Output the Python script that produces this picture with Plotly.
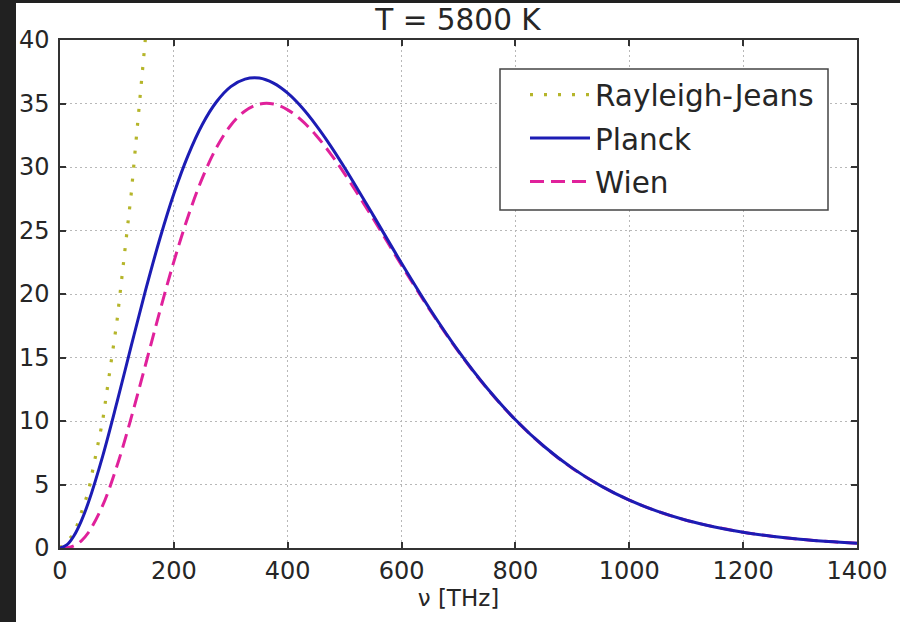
import plotly.graph_objects as go

# frequencies (THz) and spectral radiance values
nu = [0, 12.5, 25, 37.5, 50, 75, 100, 125, 150, 175, 200, 225, 250, 275, 300, 325, 350, 375,
      400, 425, 450, 475, 500, 550, 600, 650, 700, 750, 800, 850, 900, 950, 1000,
      1050, 1100, 1150, 1200, 1250, 1300, 1350, 1400]
planck = [0, 0.26, 1.0, 2.14, 3.6, 7.24, 11.46, 15.89, 20.24, 24.29, 27.89, 30.92, 33.35, 35.14,
          36.33, 36.92, 37.0, 36.6, 35.81, 34.68, 33.28, 31.69, 29.94, 26.21, 22.42,
          18.8, 15.5, 12.6, 10.1, 8.01, 6.29, 4.89, 3.77, 2.88, 2.19, 1.66, 1.24,
          0.93, 0.69, 0.51, 0.38]
wien = [0, 0.03, 0.19, 0.57, 1.22, 3.35, 6.45, 10.24, 14.39, 18.58, 22.55, 26.11, 29.13, 31.53,
        33.29, 34.41, 34.95, 34.96, 34.5, 33.65, 32.48, 31.06, 29.46, 25.94, 22.26,
        18.72, 15.46, 12.57, 10.09, 8.0, 6.28, 4.89, 3.77, 2.88, 2.19, 1.66, 1.24,
        0.93, 0.69, 0.51, 0.38]
rj_nu = [0, 25, 50, 75, 100, 125, 150]
rj = [0, 1.11, 4.46, 10.03, 17.82, 27.85, 40.1]

x_ticks = [0, 200, 400, 600, 800, 1000, 1200, 1400]
y_ticks = [0, 5, 10, 15, 20, 25, 30, 35, 40]

FONT = "DejaVu Sans"
TXT = "#262626"

fig = go.Figure()
fig.add_trace(go.Scatter(x=rj_nu, y=rj, mode="lines", name="Rayleigh-Jeans",
                         line=dict(color="#b5b52a", width=3.2, dash="3px,11px"),
                         legendgroup="a", legendrank=1))
fig.add_trace(go.Scatter(x=nu, y=wien, mode="lines", name="Wien", line_shape="spline",
                         line=dict(color="#e0219b", width=3, dash="14px,7px"),
                         legendgroup="c", legendrank=3))
fig.add_trace(go.Scatter(x=nu, y=planck, mode="lines", name="Planck", line_shape="spline",
                         line=dict(color="#1c1cb4", width=3),
                         legendgroup="b", legendrank=2))

axis_common = dict(showline=True, linecolor="#333333", linewidth=1.5, mirror="allticks",
                   ticks="inside", ticklen=6, tickwidth=1.5, tickcolor="#333333",
                   showgrid=True, gridcolor="#b8b8b8", griddash="2px,3px", gridwidth=1,
                   zeroline=False, tickfont=dict(family=FONT, size=24, color=TXT))

fig.update_xaxes(range=[0, 1400], tickvals=x_ticks, ticktext=[str(v) for v in x_ticks],
                 title=dict(text="ν [THz]", font=dict(family=FONT, size=23, color=TXT),
                            standoff=4),
                 **axis_common)
fig.update_yaxes(range=[0, 40], tickvals=y_ticks, ticktext=[str(v) for v in y_ticks],
                 ticklabelstandoff=4, **axis_common)

W, H = 900, 622
L, R, T, B = 60, 43, 40, 74
pw, ph = W - L - R, H - T - B


def px_x(p):
    return (p - L) / pw


def px_y(p):
    return (H - B - p) / ph


# dark frame around the picture (left and top strips)
fig.add_shape(type="rect", xref="paper", yref="paper",
              x0=px_x(-5), x1=px_x(16), y0=px_y(H + 5), y1=px_y(-5),
              fillcolor="#212121", line_width=0, layer="above")
fig.add_shape(type="rect", xref="paper", yref="paper",
              x0=px_x(-5), x1=px_x(W + 5), y0=px_y(3), y1=px_y(-5),
              fillcolor="#212121", line_width=0, layer="above")
# legend frame
fig.add_shape(type="rect", xref="paper", yref="paper",
              x0=px_x(500), x1=px_x(828), y0=px_y(210), y1=px_y(69),
              fillcolor="white", line=dict(color="#444444", width=1.5), layer="above")

fig.update_layout(
    width=W, height=H,
    margin=dict(l=L, r=R, t=T, b=B),
    paper_bgcolor="white", plot_bgcolor="white",
    title=dict(text="T = 5800 K", x=458 / W, xanchor="center", y=1 - 20 / H,
               yanchor="middle", font=dict(family=FONT, size=29.5, color=TXT)),
    font=dict(family=FONT, color=TXT),
    legend=dict(x=px_x(525), xanchor="left", y=px_y(69), yanchor="top",
                bgcolor="rgba(0,0,0,0)", borderwidth=0,
                font=dict(family=FONT, size=29.5, color=TXT),
                tracegroupgap=2, itemwidth=60),
    showlegend=True,
)

fig.write_html("out.html", config={"displayModeBar": False},
               post_script="document.body.style.margin='0';")
